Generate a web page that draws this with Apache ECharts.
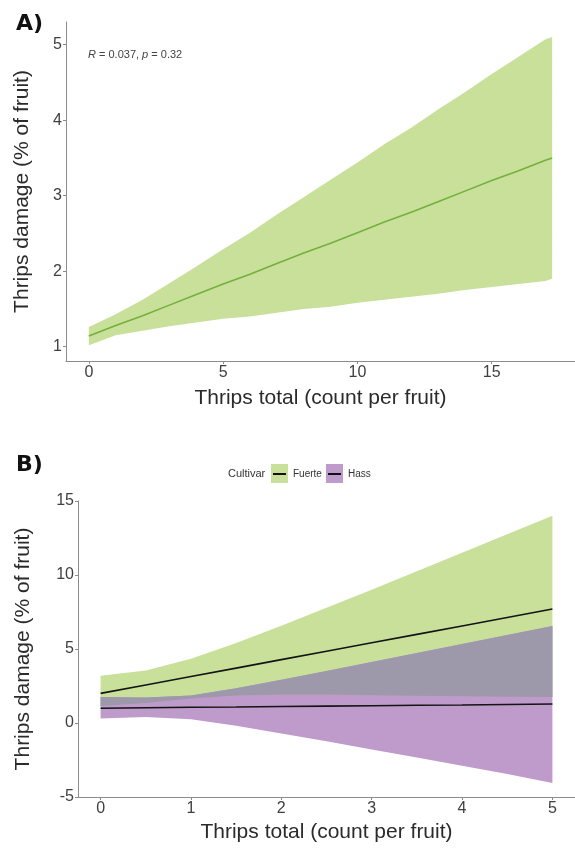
<!DOCTYPE html>
<html>
<head>
<meta charset="utf-8">
<script src="https://cdn.jsdelivr.net/npm/echarts@6/dist/echarts.min.js"></script>
<style>
html,body{margin:0;padding:0;background:#fff;}
#main{width:575px;height:848px;}
</style>
</head>
<body>
<div id="main"></div>
<script>
// panel A : all cultivars
var xA = [0,1,2,3,4,5,6,7,8,9,10,11,12,13,14,15,16,17,17.25];
var fitA = [1.14,1.28,1.41,1.55,1.69,1.83,1.96,2.10,2.24,2.37,2.51,2.65,2.78,2.92,3.06,3.20,3.33,3.47,3.50];
var upperA = [1.26,1.43,1.62,1.84,2.06,2.29,2.51,2.75,2.98,3.21,3.44,3.68,3.90,4.14,4.37,4.61,4.84,5.07,5.10];
var lowerA = [1.02,1.15,1.21,1.27,1.32,1.37,1.40,1.45,1.50,1.53,1.58,1.62,1.66,1.70,1.75,1.79,1.83,1.87,1.90];
var ticksAx = [0,5,10,15];
var ticksAy = [1,2,3,4,5];

// panel B : per cultivar
var xB = [0,0.5,1,1.5,2,2.5,3,3.5,4,4.5,5];
var fuerteFit = [2.00,2.57,3.14,3.71,4.28,4.85,5.42,5.99,6.56,7.13,7.70];
var fuerteUpper = [3.20,3.55,4.34,5.41,6.57,7.79,9.01,10.25,11.50,12.75,14.00];
var fuerteLower = [1.15,1.35,1.65,1.85,1.92,1.92,1.88,1.84,1.80,1.78,1.76];
var hassFit = [1.00,1.03,1.06,1.08,1.11,1.14,1.17,1.20,1.22,1.25,1.28];
var hassUpper = [1.76,1.72,1.85,2.34,2.93,3.52,4.13,4.73,5.33,5.94,6.55];
var hassLower = [0.30,0.40,0.25,-0.18,-0.71,-1.24,-1.79,-2.33,-2.89,-3.44,-4.05];
var ticksBx = [0,1,2,3,4,5];

var green = '#c8e09a';
var purple = '#bf9bcb';
var overlap = '#9e98ab';
var axisGrey = '#8c8c8c';
var labelGrey = '#404040';

function pairs(xs, ys){
  var out = [];
  for (var i = 0; i < xs.length; i++) out.push([xs[i], ys[i]]);
  return out;
}
// 置信带：上沿正序 + 下沿倒序 组成多边形
function ribbon(name, xi, yi, xs, hi, lo, color, z){
  return {
    name: name, type: 'custom', xAxisIndex: xi, yAxisIndex: yi,
    data: [[xs[0], lo[0]]], silent: true, z: z,
    renderItem: function(params, api){
      var pts = [];
      for (var i = 0; i < xs.length; i++) pts.push(api.coord([xs[i], hi[i]]));
      for (var j = xs.length - 1; j >= 0; j--) pts.push(api.coord([xs[j], lo[j]]));
      return { type: 'polygon', shape: { points: pts }, style: { fill: color } };
    }
  };
}
function fitLine(name, xi, yi, xs, ys, color){
  return {
    name: name, type: 'line', xAxisIndex: xi, yAxisIndex: yi,
    data: pairs(xs, ys), showSymbol: false, silent: true,
    lineStyle: { color: color, width: 1.6 },
    z: 5
  };
}
function axisBase(){
  return {
    type: 'value',
    splitLine: { show: false },
    axisLine: { show: true, onZero: false, lineStyle: { color: axisGrey, width: 1 } },
    axisTick: { show: true, length: 3, lineStyle: { color: axisGrey } },
    axisLabel: { color: labelGrey, fontSize: 16, fontFamily: 'Liberation Sans', margin: 4 },
    nameLocation: 'middle',
    nameTextStyle: { color: '#2b2b2b', fontSize: 21, fontFamily: 'Liberation Sans' }
  };
}
function mk(base, extra){
  var o = JSON.parse(JSON.stringify(base));
  for (var k in extra) {
    if (typeof extra[k] === 'object' && !Array.isArray(extra[k]) && o[k]) {
      for (var j in extra[k]) o[k][j] = extra[k][j];
    } else o[k] = extra[k];
  }
  return o;
}

var myChart = echarts.init(document.getElementById('main'));
var option = {
  animation: false,
  backgroundColor: '#fff',
  grid: [
    { left: 66, top: 22, width: 509, height: 339 },
    { left: 78, top: 501, width: 497, height: 296 }
  ],
  xAxis: [
    mk(axisBase(), { gridIndex: 0, min: -0.85, max: 18.1, name: 'Thrips total (count per fruit)', nameGap: 27,
      axisLabel: { customValues: ticksAx }, axisTick: { customValues: ticksAx } }),
    mk(axisBase(), { gridIndex: 1, min: -0.25, max: 5.25, name: 'Thrips total (count per fruit)', nameGap: 25,
      axisLabel: { customValues: ticksBx }, axisTick: { customValues: ticksBx } })
  ],
  yAxis: [
    mk(axisBase(), { gridIndex: 0, min: 0.81, max: 5.3, name: 'Thrips damage (% of fruit)', nameGap: 33,
      axisLabel: { customValues: ticksAy }, axisTick: { customValues: ticksAy } }),
    mk(axisBase(), { gridIndex: 1, min: -5, max: 15, interval: 5, name: 'Thrips damage (% of fruit)', nameGap: 44 })
  ],
  series: [
    ribbon('A-band', 0, 0, xA, upperA, lowerA, green, 1),
    fitLine('A-fit', 0, 0, xA, fitA, '#74b13c'),

    ribbon('Fuerte', 1, 1, xB, fuerteUpper, fuerteLower, green, 1),
    ribbon('Hass', 1, 1, xB, hassUpper, hassLower, purple, 2),
    ribbon('overlap', 1, 1, xB, hassUpper, fuerteLower, overlap, 3),
    fitLine('Fuerte-fit', 1, 1, xB, fuerteFit, '#141414'),
    fitLine('Hass-fit', 1, 1, xB, hassFit, '#141414')
  ],
  graphic: [
    { type: 'text', left: 16, top: 13, style: { text: 'A)', font: 'bold 22px "DejaVu Sans"', fill: '#111' } },
    { type: 'text', left: 16, top: 454, style: { text: 'B)', font: 'bold 22px "DejaVu Sans"', fill: '#111' } },
    { type: 'text', left: 88, top: 49, style: {
        text: '{i|R} = 0.037, {i|p} = 0.32',
        fill: '#444', fontSize: 11, fontFamily: 'Liberation Sans',
        rich: { i: { fontStyle: 'italic', fontSize: 11, fontFamily: 'Liberation Sans', fill: '#444' } }
    } },
    // 图例
    { type: 'text', left: 228, top: 468, style: { text: 'Cultivar', fill: '#333', fontSize: 11, fontFamily: 'Liberation Sans' } },
    { type: 'rect', shape: { x: 271, y: 464, width: 17, height: 19 }, style: { fill: green } },
    { type: 'line', shape: { x1: 273, y1: 474, x2: 286, y2: 474 }, style: { stroke: '#111', lineWidth: 2 } },
    { type: 'text', left: 293, top: 469, style: { text: 'Fuerte', fill: '#333', fontSize: 10, fontFamily: 'Liberation Sans' } },
    { type: 'rect', shape: { x: 326, y: 464, width: 17, height: 19 }, style: { fill: purple } },
    { type: 'line', shape: { x1: 328, y1: 474, x2: 341, y2: 474 }, style: { stroke: '#111', lineWidth: 2 } },
    { type: 'text', left: 348, top: 469, style: { text: 'Hass', fill: '#333', fontSize: 10, fontFamily: 'Liberation Sans' } }
  ]
};
myChart.setOption(option);
</script>
</body>
</html>
